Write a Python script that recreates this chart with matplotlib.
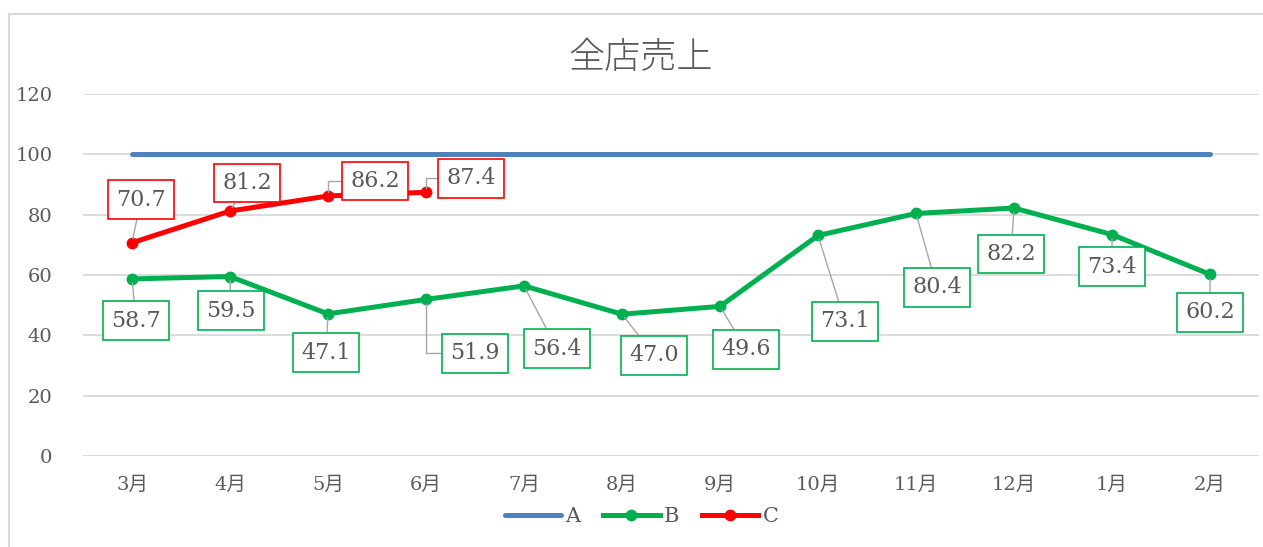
import matplotlib.pyplot as plt
import matplotlib
from matplotlib.lines import Line2D

matplotlib.rcParams['font.family'] = ['DejaVu Serif', 'Noto Sans CJK JP']
matplotlib.rcParams['font.size'] = 14

# データ
months = ['3月', '4月', '5月', '6月', '7月', '8月', '9月', '10月', '11月', '12月', '1月', '2月']
a_vals = [100] * 12
b_vals = [58.7, 59.5, 47.1, 51.9, 56.4, 47.0, 49.6, 73.1, 80.4, 82.2, 73.4, 60.2]
c_vals = [70.7, 81.2, 86.2, 87.4]
title = '全店売上'

# ラベルの位置 (offset pixels)
b_offsets = [(4, -42), (1, -34), (-2, -39), (49, -54), (33, -63), (32, -41),
             (26, -43), (27, -86), (21, -74), (-3, -46), (0, -32), (0, -38)]
c_offsets = [(9, 43), (17, 28), (47, 15), (45, 14)]
b_elbow = [False, False, False, True, False, False, False, False, False, False, False, False]
c_elbow = [False, False, True, True]

col_a = '#4f81bd'
col_b = '#00b050'
col_c = '#ff0000'
txt = '#595959'
grid = '#d9d9d9'

fig = plt.figure(figsize=(12.63, 5.47), dpi=100)
ax = fig.add_axes([83 / 1263, 91 / 547, 1176 / 1263, 362 / 547])

x = list(range(len(months)))
ax.plot(x, a_vals, color=col_a, lw=3.6, solid_capstyle='round', zorder=3)
ax.plot(x, b_vals, color=col_b, lw=3.6, marker='o', ms=7.5, zorder=3)
ax.plot(x[:len(c_vals)], c_vals, color=col_c, lw=3.6, marker='o', ms=7.5, zorder=3)


def labels(vals, offs, elbow, col):
    for i, v in enumerate(vals):
        cs = 'angle,angleA=0,angleB=90,rad=0' if elbow[i] else 'arc3'
        ax.annotate(f'{v:.1f}', (i, v), xytext=offs[i], textcoords='offset pixels',
                    ha='center', va='center', fontsize=16, color=txt,
                    family='DejaVu Serif',
                    bbox=dict(boxstyle='square,pad=0.38', fc='white', ec=col, lw=1.2),
                    arrowprops=dict(arrowstyle='-', color='#a6a6a6', lw=1,
                                    shrinkA=0, shrinkB=3, connectionstyle=cs),
                    zorder=4)


labels(b_vals, b_offsets, b_elbow, col_b)
labels(c_vals, c_offsets, c_elbow, col_c)

ax.set_ylim(0, 120)
ax.set_xlim(-0.5, len(months) - 0.5)
ax.set_yticks(range(0, 121, 20))
ax.set_xticks(x)
ax.set_xticklabels(months)
ax.tick_params(axis='both', length=0, colors=txt, labelsize=14)
ax.tick_params(axis='y', pad=22)
ax.tick_params(axis='x', pad=14)
ax.grid(axis='y', color=grid, lw=1.3)
ax.set_axisbelow(True)
for s in ax.spines.values():
    s.set_visible(False)

fig.text(0.507, 1 - 58 / 547, title, ha='center', va='center', fontsize=26,
         color=txt, family='Noto Sans CJK JP', fontweight='light')

# 外枠
fig.add_artist(Line2D([9 / 1263, 9 / 1263], [0, 1 - 14 / 547], color=grid, lw=1.5))
fig.add_artist(Line2D([9 / 1263, 1], [1 - 14 / 547, 1 - 14 / 547], color=grid, lw=1.5))

handles = [Line2D([], [], color=col_a, lw=3.6, solid_capstyle='round'),
           Line2D([], [], color=col_b, lw=3.6, marker='o', ms=7.5),
           Line2D([], [], color=col_c, lw=3.6, marker='o', ms=7.5)]
fig.legend(handles, ['A', 'B', 'C'], loc='center', bbox_to_anchor=(0.508, 30 / 547),
           ncol=3, frameon=False, handlelength=2.7, handletextpad=0.2,
           columnspacing=1.1, labelcolor=txt, fontsize=15)

plt.savefig('out.png', dpi=100)
